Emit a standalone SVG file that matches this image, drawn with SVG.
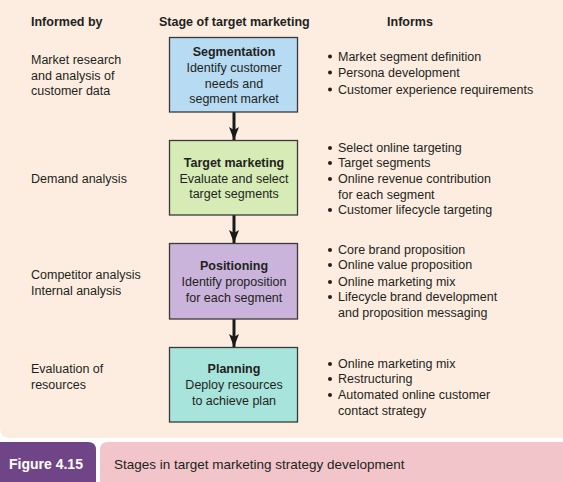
<svg xmlns="http://www.w3.org/2000/svg" width="563" height="482" viewBox="0 0 563 482">
<defs>
<marker id="ah" markerWidth="13" markerHeight="10" refX="13" refY="5" orient="auto" markerUnits="userSpaceOnUse" viewBox="0 0 13 10">
<path d="M0,0 L13,5 L0,10 L3,5 Z" fill="#1a1a1a"/>
</marker>
</defs>
<style>
text{font-family:"Liberation Sans",Arial,sans-serif;fill:#231f20;font-size:12.5px}
.h{font-weight:bold}
.c{text-anchor:middle}
.box{stroke:#3a3a3a;stroke-width:1.3}
.con{stroke:#1a1a1a;stroke-width:3;fill:none}
</style>
<path d="M0,0 H563 V438 H10 Q0,438 0,428 Z" fill="#fdede1"/>
<text class="h" x="31" y="26">Informed by</text>
<text class="h" x="159" y="26">Stage of target marketing</text>
<text class="h c" x="410" y="26">Informs</text>

<g id="connectors">
<line class="con" x1="234" y1="112" x2="234" y2="140" marker-end="url(#ah)"/>
<line class="con" x1="234" y1="215" x2="234" y2="243" marker-end="url(#ah)"/>
<line class="con" x1="234" y1="319" x2="234" y2="347" marker-end="url(#ah)"/>
</g>

<g id="segmentation">
<rect class="box" x="169.5" y="37.5" width="128" height="74.5" fill="#b6dbf3"/>
<text class="h c" x="234" y="56">Segmentation</text>
<text class="c" x="234" y="72">Identify customer</text>
<text class="c" x="234" y="87.5">needs and</text>
<text class="c" x="234" y="103">segment market</text>
</g>
<g id="target-marketing">
<rect class="box" x="169.5" y="140.5" width="128" height="74.5" fill="#d6ebb6"/>
<text class="h c" x="234" y="167">Target marketing</text>
<text class="c" x="234" y="182.5">Evaluate and select</text>
<text class="c" x="234" y="198">target segments</text>
</g>
<g id="positioning">
<rect class="box" x="169.5" y="243.5" width="128" height="75.5" fill="#cab4db"/>
<text class="h c" x="234" y="270">Positioning</text>
<text class="c" x="234" y="286">Identify proposition</text>
<text class="c" x="234" y="301.5">for each segment</text>
</g>
<g id="planning">
<rect class="box" x="169.5" y="347.5" width="128" height="74.5" fill="#a7e4dc"/>
<text class="h c" x="234" y="373">Planning</text>
<text class="c" x="234" y="389">Deploy resources</text>
<text class="c" x="234" y="404.5">to achieve plan</text>
</g>

<g id="informed-by">
<text x="31" y="64">Market research</text>
<text x="31" y="79.5">and analysis of</text>
<text x="31" y="95">customer data</text>
<text x="31" y="183">Demand analysis</text>
<text x="31" y="279">Competitor analysis</text>
<text x="31" y="294.5">Internal analysis</text>
<text x="31" y="373">Evaluation of</text>
<text x="31" y="389">resources</text>
</g>

<g id="informs" fill="#231f20">
<circle cx="330" cy="56.5" r="2"/><text x="338" y="60.5">Market segment definition</text>
<circle cx="330" cy="72.5" r="2"/><text x="338" y="76.5">Persona development</text>
<circle cx="330" cy="89.5" r="2"/><text x="338" y="93.5">Customer experience requirements</text>

<circle cx="330" cy="148" r="2"/><text x="338" y="152">Select online targeting</text>
<circle cx="330" cy="163" r="2"/><text x="338" y="167">Target segments</text>
<circle cx="330" cy="179" r="2"/><text x="338" y="183">Online revenue contribution</text>
<text x="338" y="198.5">for each segment</text>
<circle cx="330" cy="210" r="2"/><text x="338" y="214">Customer lifecycle targeting</text>

<circle cx="330" cy="250" r="2"/><text x="338" y="254">Core brand proposition</text>
<circle cx="330" cy="265" r="2"/><text x="338" y="269">Online value proposition</text>
<circle cx="330" cy="282" r="2"/><text x="338" y="286">Online marketing mix</text>
<circle cx="330" cy="297" r="2"/><text x="338" y="301">Lifecycle brand development</text>
<text x="338" y="316.5">and proposition messaging</text>

<circle cx="330" cy="364" r="2"/><text x="338" y="368">Online marketing mix</text>
<circle cx="330" cy="379" r="2"/><text x="338" y="383">Restructuring</text>
<circle cx="330" cy="395" r="2"/><text x="338" y="399">Automated online customer</text>
<text x="338" y="415">contact strategy</text>
</g>

<g id="caption">
<path d="M0,442 H88 Q96,442 96,450 V482 H0 Z" fill="#6f4587"/>
<text x="9" y="469" style="fill:#ffffff;font-size:14px;font-weight:bold">Figure 4.15</text>
<path d="M108,442 H563 V482 H100 V450 Q100,442 108,442 Z" fill="#f2c5ca"/>
<text x="114" y="469" style="font-size:13.5px">Stages in target marketing strategy development</text>
</g>
</svg>
